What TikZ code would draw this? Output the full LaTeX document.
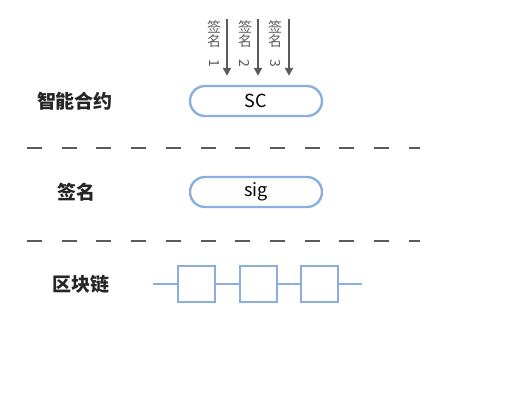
\documentclass[tikz,border=0pt]{standalone}
\usepackage{fontspec}
\newfontfamily\cjk{Noto Sans CJK SC}
\usepackage{xcolor}
\usetikzlibrary{arrows.meta, positioning}
\definecolor{chainblue}{HTML}{8CAEDC}
\definecolor{rulegray}{HTML}{5A5A5A}

\begin{document}
\begin{tikzpicture}[x=1pt, y=-1pt,
    pill/.style={rectangle, rounded corners=15pt, draw=chainblue, line width=2.4pt, minimum width=132pt, minimum height=30pt, font=\cjk\fontsize{18}{20}\selectfont},
    rowlabel/.style={font=\cjk\bfseries\fontsize{19}{22}\selectfont, text=black!85},
    block/.style={rectangle, draw=chainblue, line width=2pt, minimum width=37pt, minimum height=36pt, inner sep=0pt},
    link/.style={chainblue, line width=2pt},
    divider/.style={rulegray, line width=2.5pt, dash pattern=on 15pt off 19.7pt},
    sigarrow/.style={-{Triangle[length=8pt, width=8pt]}, rulegray, line width=2pt, shorten >=9pt},
    siglabel/.style={font=\cjk\fontsize{14}{13.5}\selectfont, text=rulegray, align=center, inner sep=0pt},
]
\useasboundingbox (0,0) rectangle (520,400);

% rows
\node[rowlabel] (lsc) at (75,101) {智能合约};
\node[pill] (sc) at (256,101) {SC};
\node[rowlabel] (lsig) at (76,192) {签名};
\node[pill] (sig) at (256,192) {sig};
\node[rowlabel] (lbc) at (81,284) {区块链};

% dividers
\draw[divider] (27,148) -- (420,148);
\draw[divider] (27,241) -- (420,241);

% signatures into the contract
\coordinate (s1) at (227,19);
\coordinate (s2) at (258,19);
\coordinate (s3) at (289,19);
\draw[sigarrow] (s1) -- (s1 |- sc.north);
\draw[sigarrow] (s2) -- (s2 |- sc.north);
\draw[sigarrow] (s3) -- (s3 |- sc.north);
\node[siglabel] (t1) at (214,44) {签\\名\\\rotatebox{-90}{1}};
\node[siglabel] (t2) at (245,44) {签\\名\\\rotatebox{-90}{2}};
\node[siglabel] (t3) at (275,44) {签\\名\\\rotatebox{-90}{3}};

% chain of blocks
\node[block] (b1) at (196,284) {};
\node[block] (b2) at (258,284) {};
\node[block] (b3) at (319,284) {};
\coordinate (c0) at (153,284);
\coordinate (c4) at (362,284);
\draw[link] (c0) -- (b1.west);
\draw[link] (b1.east) -- (b2.west);
\draw[link] (b2.east) -- (b3.west);
\draw[link] (b3.east) -- (c4);
\end{tikzpicture}
\end{document}
